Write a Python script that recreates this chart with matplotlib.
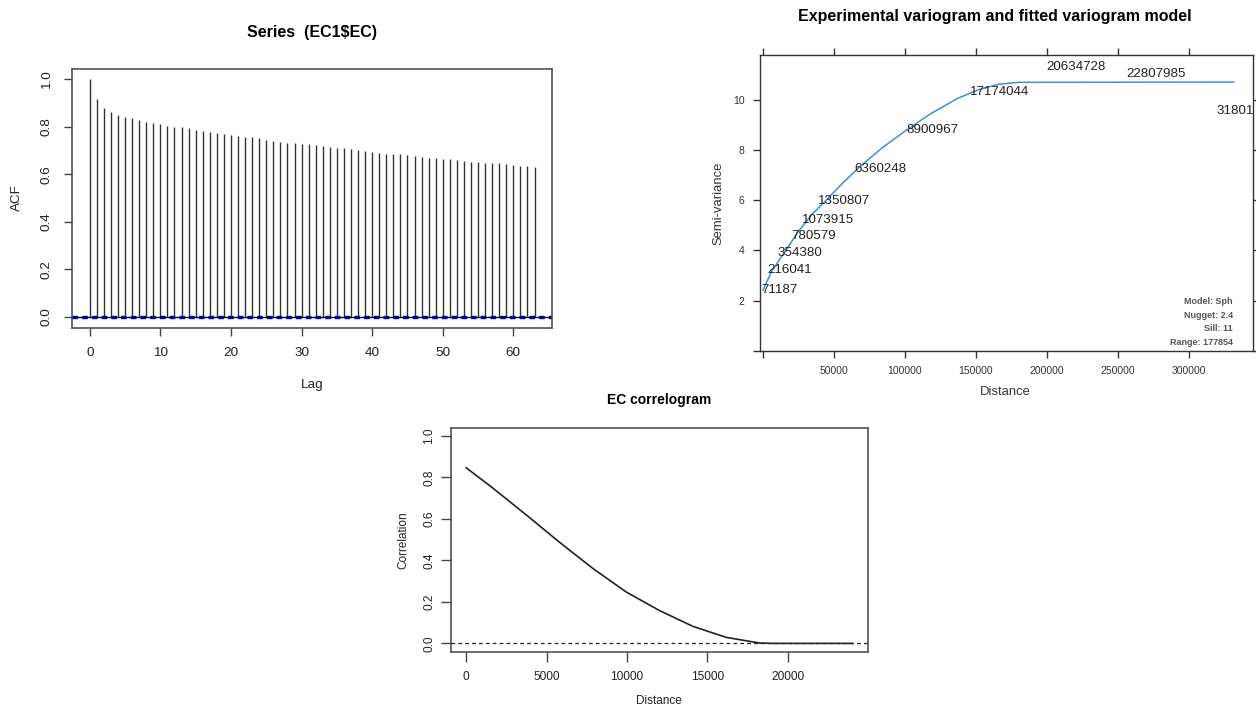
import numpy as np
import matplotlib
matplotlib.use("Agg")
import matplotlib.pyplot as plt

plt.rcParams['font.family'] = ['Liberation Sans', 'DejaVu Sans']

# ACF of EC1$EC, lags 0..63
lags = list(range(64))
acf_vals = [1.000, 0.915, 0.881, 0.864, 0.849, 0.842, 0.836, 0.828, 0.821, 0.817,
            0.811, 0.804, 0.800, 0.797, 0.793, 0.786, 0.782, 0.778, 0.775, 0.768,
            0.765, 0.762, 0.758, 0.755, 0.751, 0.744, 0.740, 0.736, 0.733, 0.730,
            0.726, 0.726, 0.723, 0.719, 0.716, 0.712, 0.709, 0.705, 0.702, 0.698,
            0.694, 0.691, 0.687, 0.684, 0.684, 0.681, 0.678, 0.674, 0.670, 0.667,
            0.663, 0.663, 0.660, 0.656, 0.653, 0.652, 0.649, 0.646, 0.646, 0.643,
            0.641, 0.636, 0.636, 0.632]
acf_ci = 0.004

# experimental variogram: pair counts shown as labels
vg_dist = [-1000, 3250, 10300, 19700, 27700, 38950, 64060, 100700, 146000, 200000, 255800, 319700]
vg_gamma = [2.43, 3.22, 3.89, 4.59, 5.22, 5.95, 7.24, 8.80, 10.33, 11.30, 11.04, 9.57]
vg_np = ["71187", "216041", "354380", "780579", "1073915", "1350807", "6360248",
         "8900967", "17174044", "20634728", "22807985", "31801"]

# fitted spherical model line
fit_dist = [0, 6060, 15490, 24860, 34270, 43660, 55400, 67110, 83520, 101150,
            118750, 137500, 151600, 165700, 179800, 331700]
fit_gamma = [2.42, 3.16, 3.95, 4.75, 5.42, 5.95, 6.64, 7.28, 8.07, 8.80,
             9.47, 10.07, 10.40, 10.62, 10.70, 10.71]
model_info = ["Model: Sph", "Nugget: 2.4", "Sill: 11", "Range: 177854"]

# correlogram
cg_dist = [0, 1690, 3760, 5830, 7900, 9965, 12030, 14100, 16170, 18230, 19060, 24000]
cg_corr = [0.847, 0.747, 0.618, 0.486, 0.360, 0.247, 0.158, 0.082, 0.029, 0.002, 0.0, 0.0]

W, H = 1256, 709
fig = plt.figure(figsize=(W / 100, H / 100), dpi=100)


def box(l, t, r, b):
    return [l / W, 1 - b / H, (r - l) / W, (b - t) / H]


def ftext(x, y, s, **kw):
    fig.text(x / W, 1 - y / H, s, **kw)


spine_col = '#444444'

# ---- ACF panel ----
ax1 = fig.add_axes(box(72, 69, 552.3, 327.7))
ax1.vlines(lags, 0, acf_vals, color='#333333', lw=1.0)
ax1.axhline(0, color='black', lw=1.0)
ax1.axhline(acf_ci, color='#0000cc', lw=1.0, ls=(0, (4, 3)))
ax1.axhline(-acf_ci, color='#0000cc', lw=1.0, ls=(0, (4, 3)))
ax1.set_xlim(-2.52, 65.52)
ax1.set_ylim(-0.045, 1.043)
ax1.set_xticks([0, 10, 20, 30, 40, 50, 60])
ax1.set_yticks([0.0, 0.2, 0.4, 0.6, 0.8, 1.0])
ax1.set_yticklabels(['0.0', '0.2', '0.4', '0.6', '0.8', '1.0'], rotation=90, va='center')
ax1.tick_params(length=6, width=1, color=spine_col, labelsize=9.7, labelcolor='#222222', pad=8)
for s in ax1.spines.values():
    s.set_color(spine_col)
    s.set_linewidth(1.1)
ftext(312, 32, "Series  (EC1$EC)", ha='center', va='center', fontsize=11.5, fontweight='bold')
ftext(312, 385, "Lag", ha='center', va='center', fontsize=9.7, color='#222222')
ftext(17, 198, "ACF", ha='center', va='center', fontsize=9.7, rotation=90, color='#222222')

# ---- variogram panel ----
ax2 = fig.add_axes(box(760, 55, 1252.7, 351))
ax2.plot(fit_dist, fit_gamma, color='#3b8fdc', lw=1.1)
for d, g, n in zip(vg_dist, vg_gamma, vg_np):
    ax2.text(d, g, n, ha='left', va='center', fontsize=9.6, color='#222222', clip_on=False)
ax2.set_xlim(-2100, 345070)
ax2.set_ylim(-0.01, 11.79)
xt = [0, 50000, 100000, 150000, 200000, 250000, 300000]
yt = [0, 2, 4, 6, 8, 10]
ax2.set_xticks(xt)
ax2.set_xticklabels([''] + [str(v) for v in xt[1:]])
ax2.set_yticks(yt)
ax2.set_yticklabels([''] + [str(v) for v in yt[1:]])
ax2.tick_params(length=5, width=1, color='#333333', labelsize=7.5, labelcolor='#333333', pad=6,
                top=True, right=True, labeltop=False, labelright=False)
for s in ax2.spines.values():
    s.set_color('#333333')
    s.set_linewidth(1.0)
for i, line in enumerate(model_info):
    ftext(1232.7, 301.7 + i * 13.5, line, ha='right', va='center', fontsize=6.5,
          fontweight='bold', color='#555555')
ftext(995, 17, "Experimental variogram and fitted variogram model", ha='center', va='center',
      fontsize=11.5, fontweight='bold')
ftext(1005, 392, "Distance", ha='center', va='center', fontsize=9.4, color='#333333')
ftext(718, 203, "Semi-variance", ha='center', va='center', fontsize=9.4, rotation=90, color='#333333')

# ---- correlogram panel ----
ax3 = fig.add_axes(box(450.7, 427.7, 867.7, 651.7))
ax3.plot(cg_dist, cg_corr, color='#222222', lw=1.2)
ax3.axhline(0, color='#222222', lw=0.9, ls=(0, (3, 2.5)))
ax3.set_xlim(-960, 24960)
ax3.set_ylim(-0.04, 1.04)
ax3.set_xticks([0, 5000, 10000, 15000, 20000])
ax3.set_yticks([0.0, 0.2, 0.4, 0.6, 0.8, 1.0])
ax3.set_yticklabels(['0.0', '0.2', '0.4', '0.6', '0.8', '1.0'], rotation=90, va='center')
ax3.tick_params(axis='x', length=7, width=1, color=spine_col, labelsize=8.6, labelcolor='#222222', pad=7)
ax3.tick_params(axis='y', length=7, width=1, color=spine_col, labelsize=8.6, labelcolor='#222222', pad=4)
for s in ax3.spines.values():
    s.set_color(spine_col)
    s.set_linewidth(1.1)
ftext(659, 400, "EC correlogram", ha='center', va='center', fontsize=10, fontweight='bold')
ftext(659, 701, "Distance", ha='center', va='center', fontsize=8.5, color='#222222')
ftext(403, 540, "Correlation", ha='center', va='center', fontsize=8.5, rotation=90, color='#222222')

fig.savefig("out.png", dpi=100)
